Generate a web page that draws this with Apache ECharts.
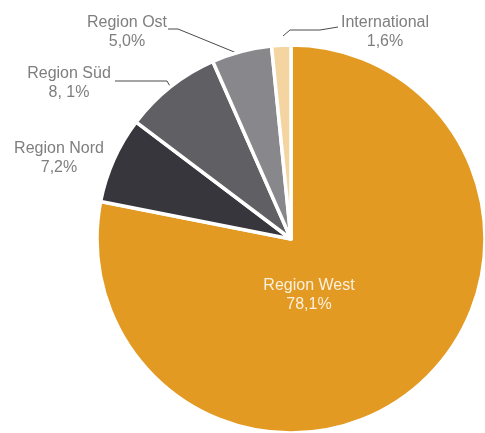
<!DOCTYPE html>
<html><head><meta charset="utf-8">
<script src="https://cdn.jsdelivr.net/npm/echarts@6/dist/echarts.min.js"></script>
<style>html,body{margin:0;padding:0;background:#fff}#c{width:485px;height:433px}</style>
</head><body><div id="c"></div>
<script>
const categories = ["Region West", "Region Nord", "Region Süd", "Region Ost", "International"];
const values = [78.1, 7.2, 8.1, 5.0, 1.6];
const valueLabels = ["78,1%", "7,2%", "8, 1%", "5,0%", "1,6%"];
const colors = ["#E29A22", "#36363C", "#606064", "#88888C", "#F4D4A0"];

const labelPos = [
  {x: 309, y: 295},
  {x: 59, y: 158},
  {x: 69, y: 83},
  {x: 127, y: 32},
  {x: 385, y: 32}
];
const linePts = [
  null, null,
  [[171, 88], [167, 81], [115, 81]],
  [[244, 56], [178, 29], [168, 29]],
  [[283, 36], [290, 30], [320, 30], [338, 27]]
];

const chart = echarts.init(document.getElementById('c'), null, {renderer: 'canvas'});
chart.setOption({
  animation: false,
  series: [{
    type: 'pie',
    center: [291, 239],
    radius: [0, 194],
    startAngle: 90,
    clockwise: true,
    data: categories.map((n, i) => ({
      name: n, value: values[i],
      itemStyle: {color: colors[i]},
      label: i === 0 ? {color: '#FBF0DC', position: 'inside'} : {},
      labelLine: {show: !!linePts[i]}
    })),
    itemStyle: {borderColor: '#fff', borderWidth: 3.5},
    label: {
      show: true,
      formatter: p => p.name + '\n' + valueLabels[p.dataIndex],
      fontFamily: 'Liberation Sans, Arial, sans-serif',
      fontSize: 16,
      lineHeight: 19,
      color: '#7E7E7E',
      align: 'center',
      overflow: 'none'
    },
    labelLine: {show: true, lineStyle: {color: '#4a4a4a', width: 1}},
    labelLayout: function (p) {
      const i = p.dataIndex;
      const o = {x: labelPos[i].x, y: labelPos[i].y, align: 'center', verticalAlign: 'middle', width: 200};
      if (linePts[i]) o.labelLinePoints = linePts[i];
      return o;
    }
  }]
});
</script></body></html>
